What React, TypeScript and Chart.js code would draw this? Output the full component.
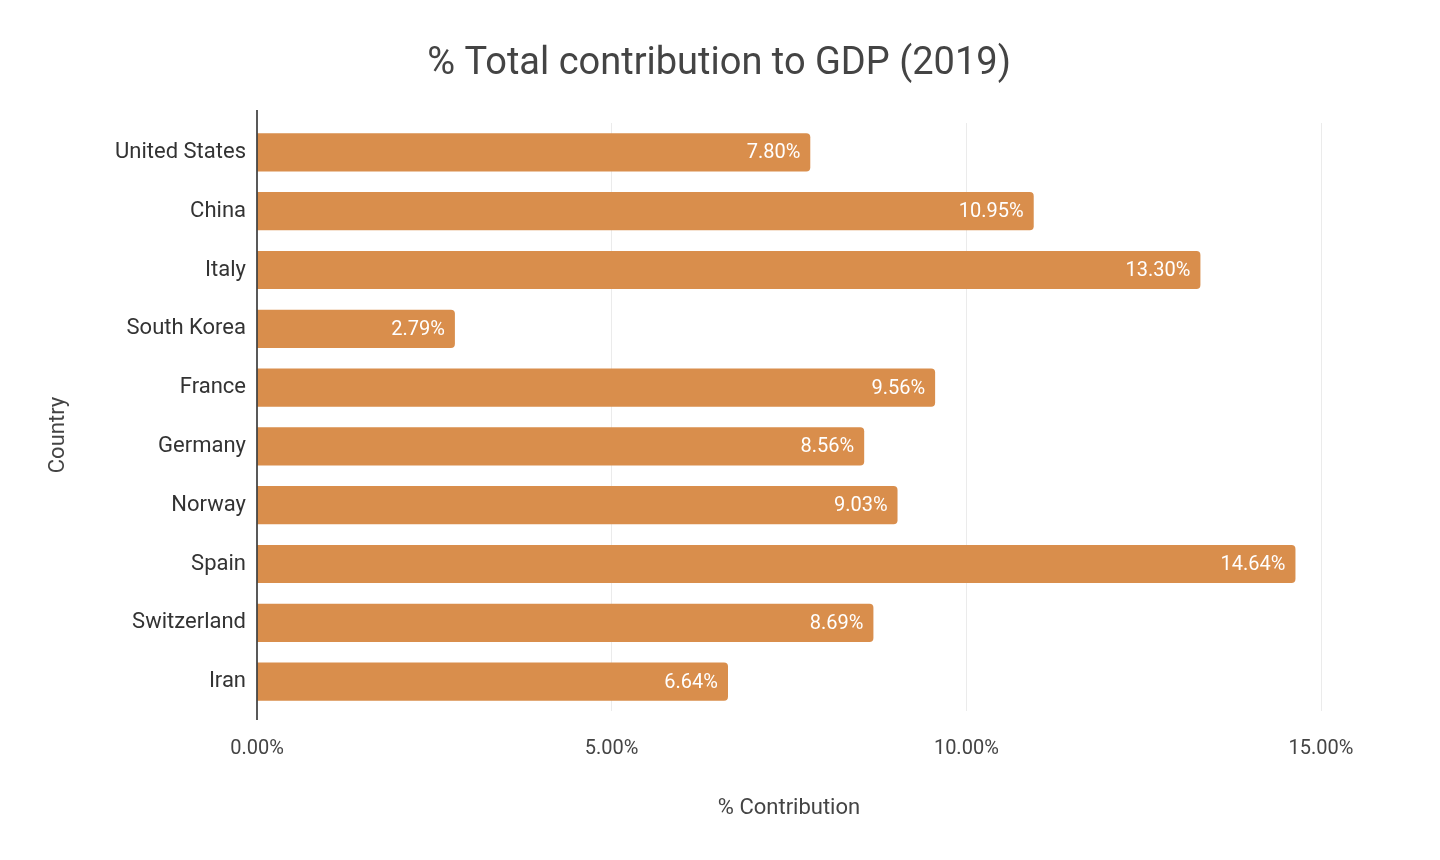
import React, { useEffect, useRef } from "react";
import { Chart, registerables } from "chart.js";
Chart.register(...registerables);

const countries = ["United States", "China", "Italy", "South Korea", "France", "Germany", "Norway", "Spain", "Switzerland", "Iran"];
const values = [7.8, 10.95, 13.3, 2.79, 9.56, 8.56, 9.03, 14.64, 8.69, 6.64];
const chartTitle = "% Total contribution to GDP (2019)";
const xTitle = "% Contribution";
const yTitle = "Country";

const FONT = "Roboto";

const decor = {
  id: "decor",
  afterDatasetsDraw(chart: any) {
    const ctx = chart.ctx;
    const meta = chart.getDatasetMeta(0);
    ctx.save();
    ctx.fillStyle = "#fff";
    ctx.font = `20px ${FONT}`;
    ctx.textAlign = "right";
    ctx.textBaseline = "middle";
    meta.data.forEach((bar: any, i: number) => {
      ctx.fillText(values[i].toFixed(2) + "%", bar.x - 10, bar.y + 1);
    });
    const a = chart.chartArea;
    ctx.strokeStyle = "#222";
    ctx.lineWidth = 1.5;
    ctx.beginPath();
    ctx.moveTo(a.left, 110);
    ctx.lineTo(a.left, 720);
    ctx.stroke();
    ctx.fillStyle = "#444";
    ctx.textAlign = "center";
    ctx.font = `38px ${FONT}`;
    ctx.fillText(chartTitle, 719, 64);
    ctx.font = `22px ${FONT}`;
    ctx.fillText(xTitle, (a.left + a.right) / 2, 808);
    ctx.translate(58, 435);
    ctx.rotate(-Math.PI / 2);
    ctx.fillText(yTitle, 0, 0);
    ctx.restore();
  },
};

export default function App() {
  const ref = useRef<HTMLCanvasElement>(null);
  useEffect(() => {
    const chart = new Chart(ref.current!, {
      type: "bar",
      data: {
        labels: countries,
        datasets: [{ data: values, backgroundColor: "#D98E4C", borderRadius: 4, borderSkipped: "start", barPercentage: 0.65, categoryPercentage: 1 }],
      },
      options: {
        indexAxis: "y",
        animation: false,
        responsive: false,
        layout: { padding: { top: 123, left: 0, right: 119, bottom: 0 } },
        plugins: { legend: { display: false }, title: { display: false }, tooltip: { enabled: false } },
        scales: {
          x: {
            min: 0,
            max: 15,
            afterFit: (s: any) => { s.height = 149; },
            ticks: { stepSize: 5, padding: 26, color: "#444", font: { family: FONT, size: 20 }, callback: (v: any) => Number(v).toFixed(2) + "%" },
            grid: { color: (c: any) => (c.tick && c.tick.value === 0 ? "rgba(0,0,0,0)" : "#ebebeb"), drawTicks: false },
            border: { display: false },
          },
          y: {
            afterFit: (s: any) => { s.width = 257; },
            ticks: { padding: 11, color: "#333", font: { family: FONT, size: 22 } },
            grid: { display: false, drawTicks: false },
            border: { display: false },
          },
        },
      },
      plugins: [decor],
    });
    return () => chart.destroy();
  }, []);
  return (
    <div style={{ position: "fixed", left: 0, top: 0, width: 1440, height: 860, background: "#fff" }}>
      <canvas ref={ref} width={1440} height={860} style={{ width: 1440, height: 860 }} />
    </div>
  );
}
